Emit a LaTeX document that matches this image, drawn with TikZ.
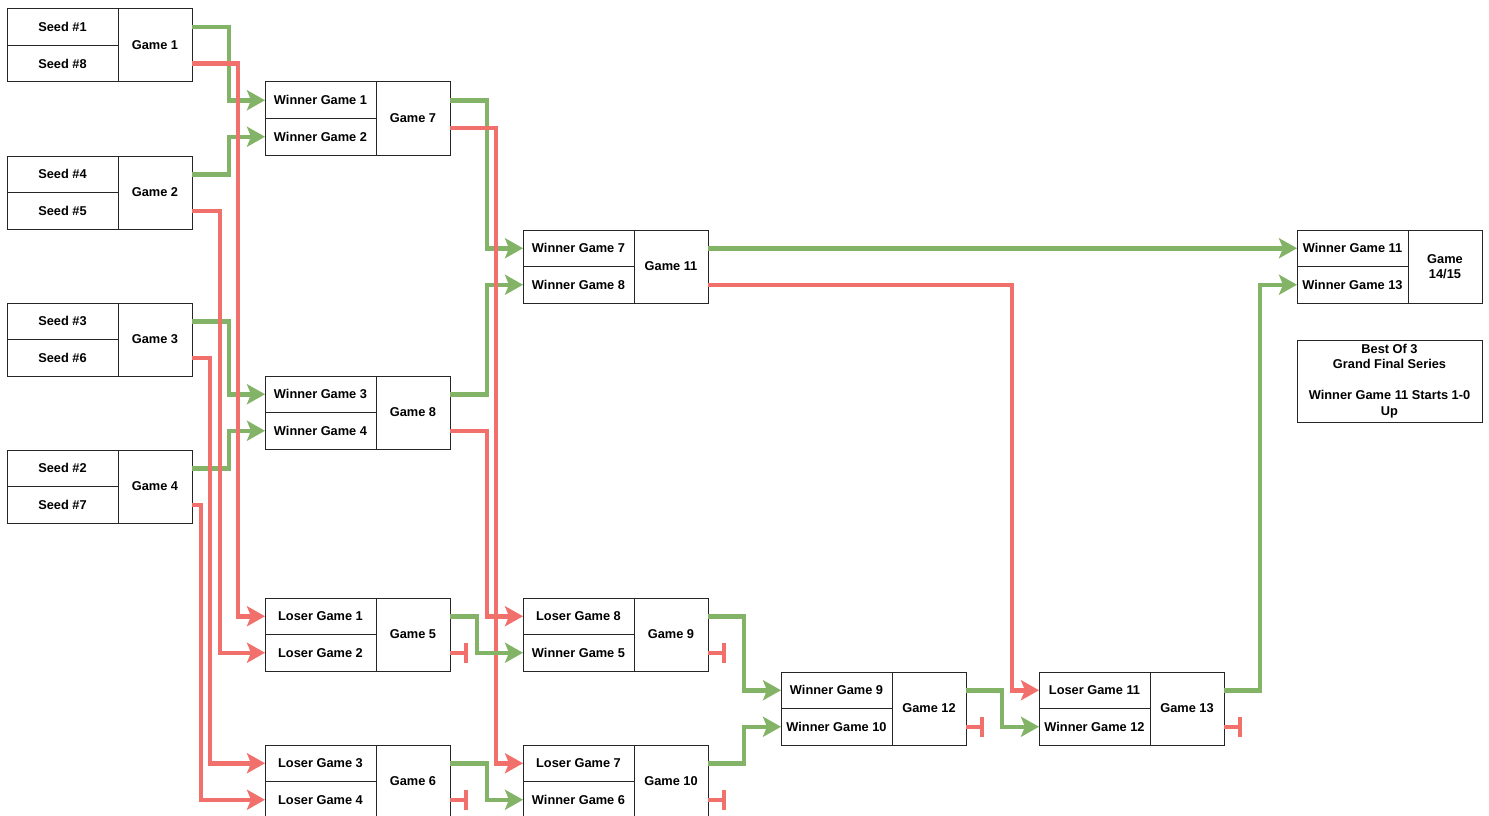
\documentclass[tikz,border=0pt]{standalone}
\usepackage{fontspec}
\setmainfont{Liberation Sans}
\usetikzlibrary{arrows.meta,positioning}
\definecolor{wingreen}{RGB}{130,179,102}
\definecolor{losered}{RGB}{242,112,108}

\begin{document}
\begin{tikzpicture}[x=1pt, y=-1pt,
  cell/.style={draw=black!85, line width=1pt, minimum width=111pt, minimum height=36.5pt,
    inner sep=0pt, outer sep=0pt, font=\fontsize{12.8}{15.5}\selectfont\bfseries},
  game/.style={cell, minimum width=74pt, minimum height=73pt, align=center},
  note/.style={cell, minimum width=185pt, minimum height=82pt, align=center},
  win/.style={draw=wingreen, line width=4.5pt, -{Stealth[length=18pt,width=20pt,inset=4pt]}},
  lose/.style={draw=losered, line width=4.5pt, -{Stealth[length=18pt,width=20pt,inset=4pt]}},
  elim/.style={draw=losered, line width=4.5pt, -{Bar[width=20pt]}}]
\useasboundingbox (0,0) rectangle (1489,816);

% first round
\foreach \g/\y/\a/\b in {1/9/1/8, 2/156/4/5, 3/303/3/6, 4/450/2/7} {
  \node[cell, anchor=north west] (t\g) at (7,\y) {Seed \#\a};
  \node[cell, below=0pt of t\g] (b\g) {Seed \#\b};
  \node[game, anchor=north west] (g\g) at (t\g.north east) {Game \g};
}

% later rounds
\foreach \g/\x/\y/\a/\b in {7/265/82/Winner Game 1/Winner Game 2,
    8/265/376/Winner Game 3/Winner Game 4,
    5/265/598/Loser Game 1/Loser Game 2,
    6/265/745/Loser Game 3/Loser Game 4,
    11/523/230/Winner Game 7/Winner Game 8,
    9/523/598/Loser Game 8/Winner Game 5,
    10/523/745/Loser Game 7/Winner Game 6,
    12/781/672/Winner Game 9/Winner Game 10,
    13/1039/672/Loser Game 11/Winner Game 12} {
  \node[cell, anchor=north west] (t\g) at (\x,\y) {\a};
  \node[cell, below=0pt of t\g] (b\g) {\b};
  \node[game, anchor=north west] (g\g) at (t\g.north east) {Game \g};
}

% grand final
\node[cell, anchor=north west] (t14) at (1297,230) {Winner Game 11};
\node[cell, below=0pt of t14] (b14) {Winner Game 13};
\node[game, anchor=north west] (g14) at (t14.north east) {Game\\14/15};
\node[note, anchor=north west] (note) at (1297,340)
  {Best Of 3\\Grand Final Series\\[15.5pt]Winner Game 11 Starts 1-0\\Up};

% winners bracket
\draw[win] (t1 -| g1.east) -- ++(37,0) |- (t7);
\draw[win] (t2 -| g2.east) -- ++(37,0) |- (b7);
\draw[win] (t3 -| g3.east) -- ++(37,0) |- (t8);
\draw[win] (t4 -| g4.east) -- ++(37,0) |- (b8);
\draw[lose] (b1 -| g1.east) -- ++(46,0) |- (t5);
\draw[lose] (b2 -| g2.east) -- ++(28,0) |- (b5);
\draw[lose] (b3 -| g3.east) -- ++(18,0) |- (t6);
\draw[lose] (b4 -| g4.east) -- ++(9,0) |- (b6);

\draw[win] (t7 -| g7.east) -- ++(37,0) |- (t11);
\draw[win] (t8 -| g8.east) -- ++(37,0) |- (b11);
\draw[lose] ([yshift=-9.5pt]g7.east) -- ++(46,0) |- (t10);
\draw[lose] (b8 -| g8.east) -- ++(37,0) |- (t9);

% losers bracket
\draw[win] (t5 -| g5.east) -- ++(27,0) |- (b9);
\draw[elim] (b5 -| g5.east) -- ++(18,0);
\draw[win] (t6 -| g6.east) -- ++(37,0) |- (b10);
\draw[elim] (b6 -| g6.east) -- ++(18,0);
\draw[win] (t9 -| g9.east) -- ++(36,0) |- (t12);
\draw[elim] (b9 -| g9.east) -- ++(18,0);
\draw[win] (t10 -| g10.east) -- ++(36,0) |- (b12);
\draw[elim] (b10 -| g10.east) -- ++(18,0);

\draw[win] (t11 -| g11.east) -- (t14);
\draw[lose] (b11 -| g11.east) -- ++(304,0) |- (t13);
\draw[win] (t12 -| g12.east) -- ++(36,0) |- (b13);
\draw[elim] (b12 -| g12.east) -- ++(18,0);
\draw[win] (t13 -| g13.east) -- ++(36,0) |- (b14);
\draw[elim] (b13 -| g13.east) -- ++(18,0);
\end{tikzpicture}
\end{document}
